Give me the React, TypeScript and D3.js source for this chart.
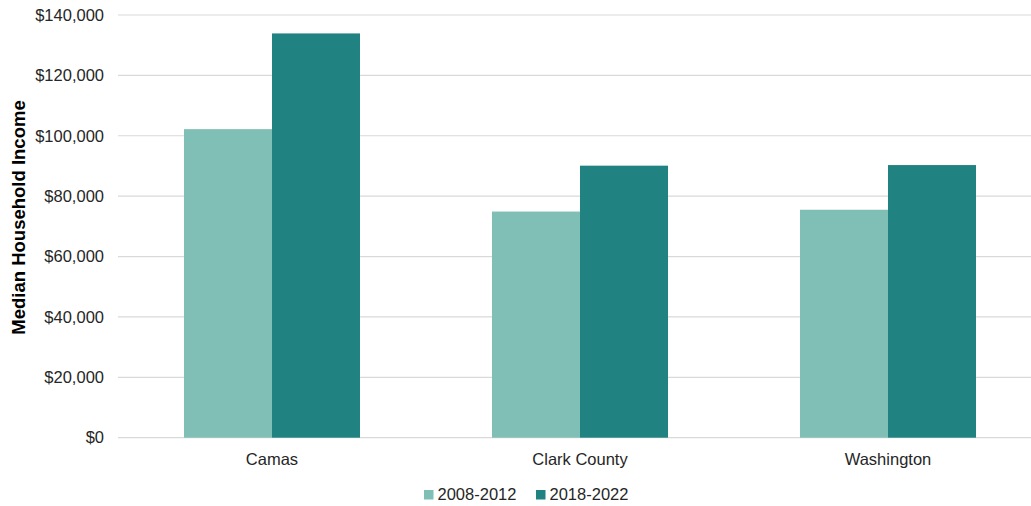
import React from "react";
import * as d3 from "d3";

const categories = ["Camas", "Clark County", "Washington"];
const seriesNames = ["2008-2012", "2018-2022"];
const values2008 = [102200, 74900, 75500];
const values2018 = [133900, 90100, 90300];
const yTicks = [0, 20000, 40000, 60000, 80000, 100000, 120000, 140000];
const colors = ["#80bfb5", "#218282"];

const W = 1031;
const H = 506;

export default function App() {
  const x0 = d3.scaleBand<string>().domain(categories).range([118, 1042]).padding(0);
  const x1 = d3.scaleBand<string>().domain(seriesNames).range([66, 242]).padding(0);
  const y = d3.scaleLinear().domain([0, 140000]).range([437.7, 15]);
  const fmt = (v: number) => "$" + d3.format(",")(v);
  const seriesValues = [values2008, values2018];
  const font = "Liberation Sans, Arial, sans-serif";

  return (
    <svg width={W} height={H} style={{ position: "absolute", left: 0, top: 0 }} fontFamily={font}>
      <rect width={W} height={H} fill="#fff" />
      {yTicks.map((t) => (
        <g key={t}>
          <line x1={118} x2={W} y1={y(t)} y2={y(t)} stroke="#d9d9d9" strokeWidth={1.2} />
          <text x={104} y={y(t)} dy="0.35em" textAnchor="end" fontSize={16.5} fill="#262626">
            {fmt(t)}
          </text>
        </g>
      ))}
      {categories.map((c, i) => (
        <g key={c} transform={`translate(${x0(c)},0)`}>
          {seriesNames.map((s, j) => (
            <rect
              key={s}
              x={x1(s)}
              y={y(seriesValues[j][i])}
              width={x1.bandwidth()}
              height={y(0) - y(seriesValues[j][i])}
              fill={colors[j]}
            />
          ))}
          <text x={x0.bandwidth() / 2} y={465} textAnchor="middle" fontSize={16.5} fill="#262626">
            {c}
          </text>
        </g>
      ))}
      <text
        transform={`translate(24.5,217.5) rotate(-90)`}
        textAnchor="middle"
        fontSize={18.5}
        fontWeight="bold"
        fill="#000"
      >
        Median Household Income
      </text>
      {seriesNames.map((s, j) => (
        <g key={s} transform={`translate(${424 + j * 112},490)`}>
          <rect x={0} y={0} width={9.5} height={9.5} fill={colors[j]} />
          <text x={13.5} y={9.5} fontSize={16.5} fill="#262626">
            {s}
          </text>
        </g>
      ))}
    </svg>
  );
}
